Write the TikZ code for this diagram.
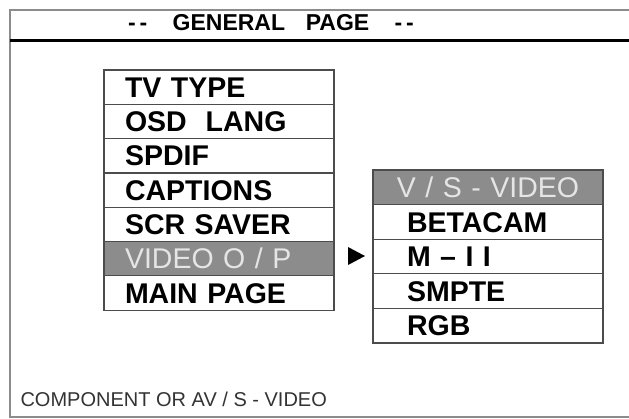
\documentclass[tikz,border=0pt]{standalone}
\usepackage{fontspec}
\setmainfont{Liberation Sans}
\usetikzlibrary{positioning}

\definecolor{selgray}{gray}{0.55}
\definecolor{seltext}{gray}{0.9}
\definecolor{framegray}{gray}{0.55}
\definecolor{boxline}{gray}{0.3}

\tikzset{
  entry/.style={draw=boxline, line width=1.2pt, minimum width=230pt, minimum height=34.3pt,
    outer sep=0pt, inner xsep=21pt, inner ysep=0pt, text width=188pt, align=left,
    text height=20.4pt, text depth=0pt, anchor=north,
    font=\bfseries\fontsize{28.5}{30}\selectfont},
  subentry/.style={minimum height=34.6pt, inner xsep=34pt, text width=162pt},
  selected/.style={fill=selgray, text=seltext, font=\mdseries\fontsize{28.5}{30}\selectfont}
}

\begin{document}
\begin{tikzpicture}[x=1pt,y=-1pt]
\useasboundingbox (0,0) rectangle (629,418);

% screen frame and title bar
\draw[framegray, line width=1.5pt] (629,10) -- (10,10) -- (10,417) -- (629,417);
\draw[line width=3.5pt] (10,40.5) -- (629,40.5);
\node[font=\bfseries\fontsize{23}{25}\selectfont] (title) at (271,23)
  {-\,-\hspace{1.1em}GENERAL\hspace{0.9em}PAGE\hspace{1.1em}-\,-};

% general page menu
\node[entry] (tvtype) at (219,70) {TV TYPE};
\node[entry, below=0pt of tvtype] (osdlang) {OSD\ \ LANG};
\node[entry, below=0pt of osdlang] (spdif) {SPDIF};
\node[entry, below=0pt of spdif] (captions) {CAPTIONS};
\node[entry, below=0pt of captions] (scrsaver) {SCR SAVER};
\node[entry, selected, below=0pt of scrsaver] (videoop) {VIDEO O / P};
\node[entry, below=0pt of videoop] (mainpage) {MAIN PAGE};

% video output submenu
\node[entry, subentry, selected, inner xsep=10pt, text width=210pt, align=center]
  (vsvideo) at (488,170) {V / S - VIDEO};
\node[entry, subentry, below=0pt of vsvideo] (betacam) {BETACAM};
\node[entry, subentry, below=0pt of betacam] (mii) {M -- I I};
\node[entry, subentry, below=0pt of mii] (smpte) {SMPTE};
\node[entry, subentry, below=0pt of smpte] (rgb) {RGB};

\fill (348,247) -- (365,256) -- (348,265) -- cycle;

% status line
\node[anchor=west, text=black!80, font=\fontsize{20}{22}\selectfont] (status) at (17,399)
  {COMPONENT OR AV / S - VIDEO};
\end{tikzpicture}
\end{document}
